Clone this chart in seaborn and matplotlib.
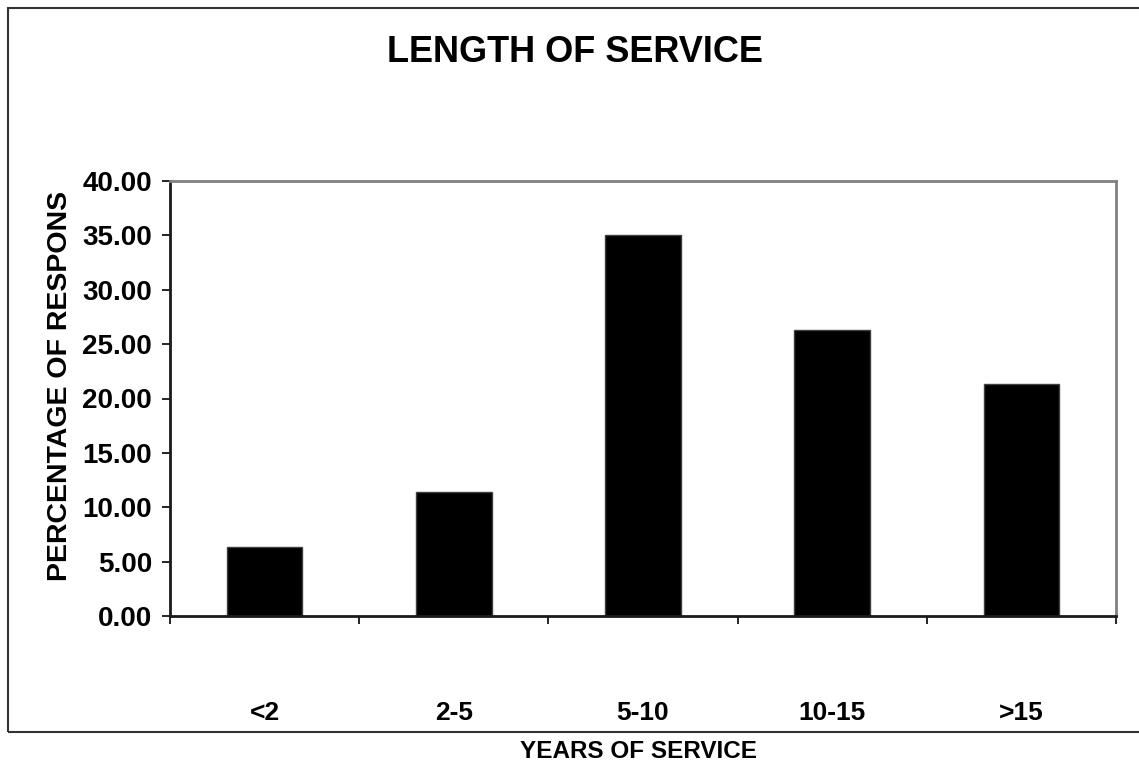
import matplotlib
matplotlib.use("Agg")
import matplotlib.pyplot as plt
from matplotlib.patches import Rectangle
from matplotlib.ticker import FixedLocator, FormatStrFormatter
import pandas as pd
import seaborn as sns

# Survey results: share of respondents by years of service
categories = ["<2", "2-5", "5-10", "10-15", ">15"]
percentages = [6.3, 11.4, 35.0, 26.3, 21.3]

title_text = "LENGTH OF SERVICE"
x_title = "YEARS OF SERVICE"
y_title = "PERCENTAGE OF RESPONS"

sns.set_theme(style="white")
plt.rcParams["font.family"] = ["Liberation Sans", "DejaVu Sans"]
plt.rcParams["font.weight"] = "bold"

W, H = 1139, 765
fig = plt.figure(figsize=(W / 100, H / 100), dpi=100)
fig.patch.set_facecolor("white")

# plot area in pixel coordinates
left, right, top, bottom = 170, 1116, 181, 616
ax = fig.add_axes([left / W, 1 - bottom / H, (right - left) / W, (bottom - top) / H])

df = pd.DataFrame({"years": categories, "pct": percentages})
sns.barplot(data=df, x="years", y="pct", order=categories, color="black",
            width=0.4, edgecolor="#404040", linewidth=1, saturation=1, ax=ax)

ax.set_xlim(-0.5, len(categories) - 0.5)
ax.set_ylim(0, 40)
ax.yaxis.set_major_locator(FixedLocator([0, 5, 10, 15, 20, 25, 30, 35, 40]))
ax.yaxis.set_major_formatter(FormatStrFormatter("%.2f"))

# tick marks sit between categories, labels sit far below the axis
ax.xaxis.set_minor_locator(FixedLocator([i - 0.5 for i in range(len(categories) + 1)]))
ax.tick_params(axis="x", which="major", length=0, pad=61, labelsize=19)
ax.tick_params(axis="x", which="minor", direction="out", length=6, width=1.2,
               color="black", bottom=True)
ax.tick_params(axis="y", which="major", direction="out", length=6, width=1.2,
               color="black", left=True, pad=7, labelsize=20)
for lab in ax.get_xticklabels() + ax.get_yticklabels():
    lab.set_fontweight("bold")
    lab.set_color("black")

for side in ("left", "bottom"):
    ax.spines[side].set_color("#1a1a1a")
    ax.spines[side].set_linewidth(2)
for side in ("top", "right"):
    ax.spines[side].set_visible(True)
    ax.spines[side].set_color("#808080")
    ax.spines[side].set_linewidth(2)

ax.set_xlabel(x_title, fontsize=17.5, fontweight="bold", color="black")
ax.set_ylabel(y_title, fontsize=20.5, fontweight="bold", color="black")
ax.xaxis.set_label_coords((639 - left) / (right - left), -(751 - bottom) / (bottom - top))
ax.xaxis.label.set_va("center")
ax.yaxis.set_label_coords(-(170 - 60) / (right - left), (bottom - 386) / (bottom - top))
ax.yaxis.label.set_va("center")

fig.text(575 / W, 1 - 53 / H, title_text, ha="center", va="center",
         fontsize=26, fontweight="bold", color="black")

# outer chart frame
frame = Rectangle((8 / W, 1 - 732 / H), (W + 20) / W, (732 - 8) / H,
                  transform=fig.transFigure, fill=False, edgecolor="#333333",
                  linewidth=1.5, clip_on=False)
fig.patches.append(frame)

fig.savefig("out.png", dpi=100, facecolor="white")
